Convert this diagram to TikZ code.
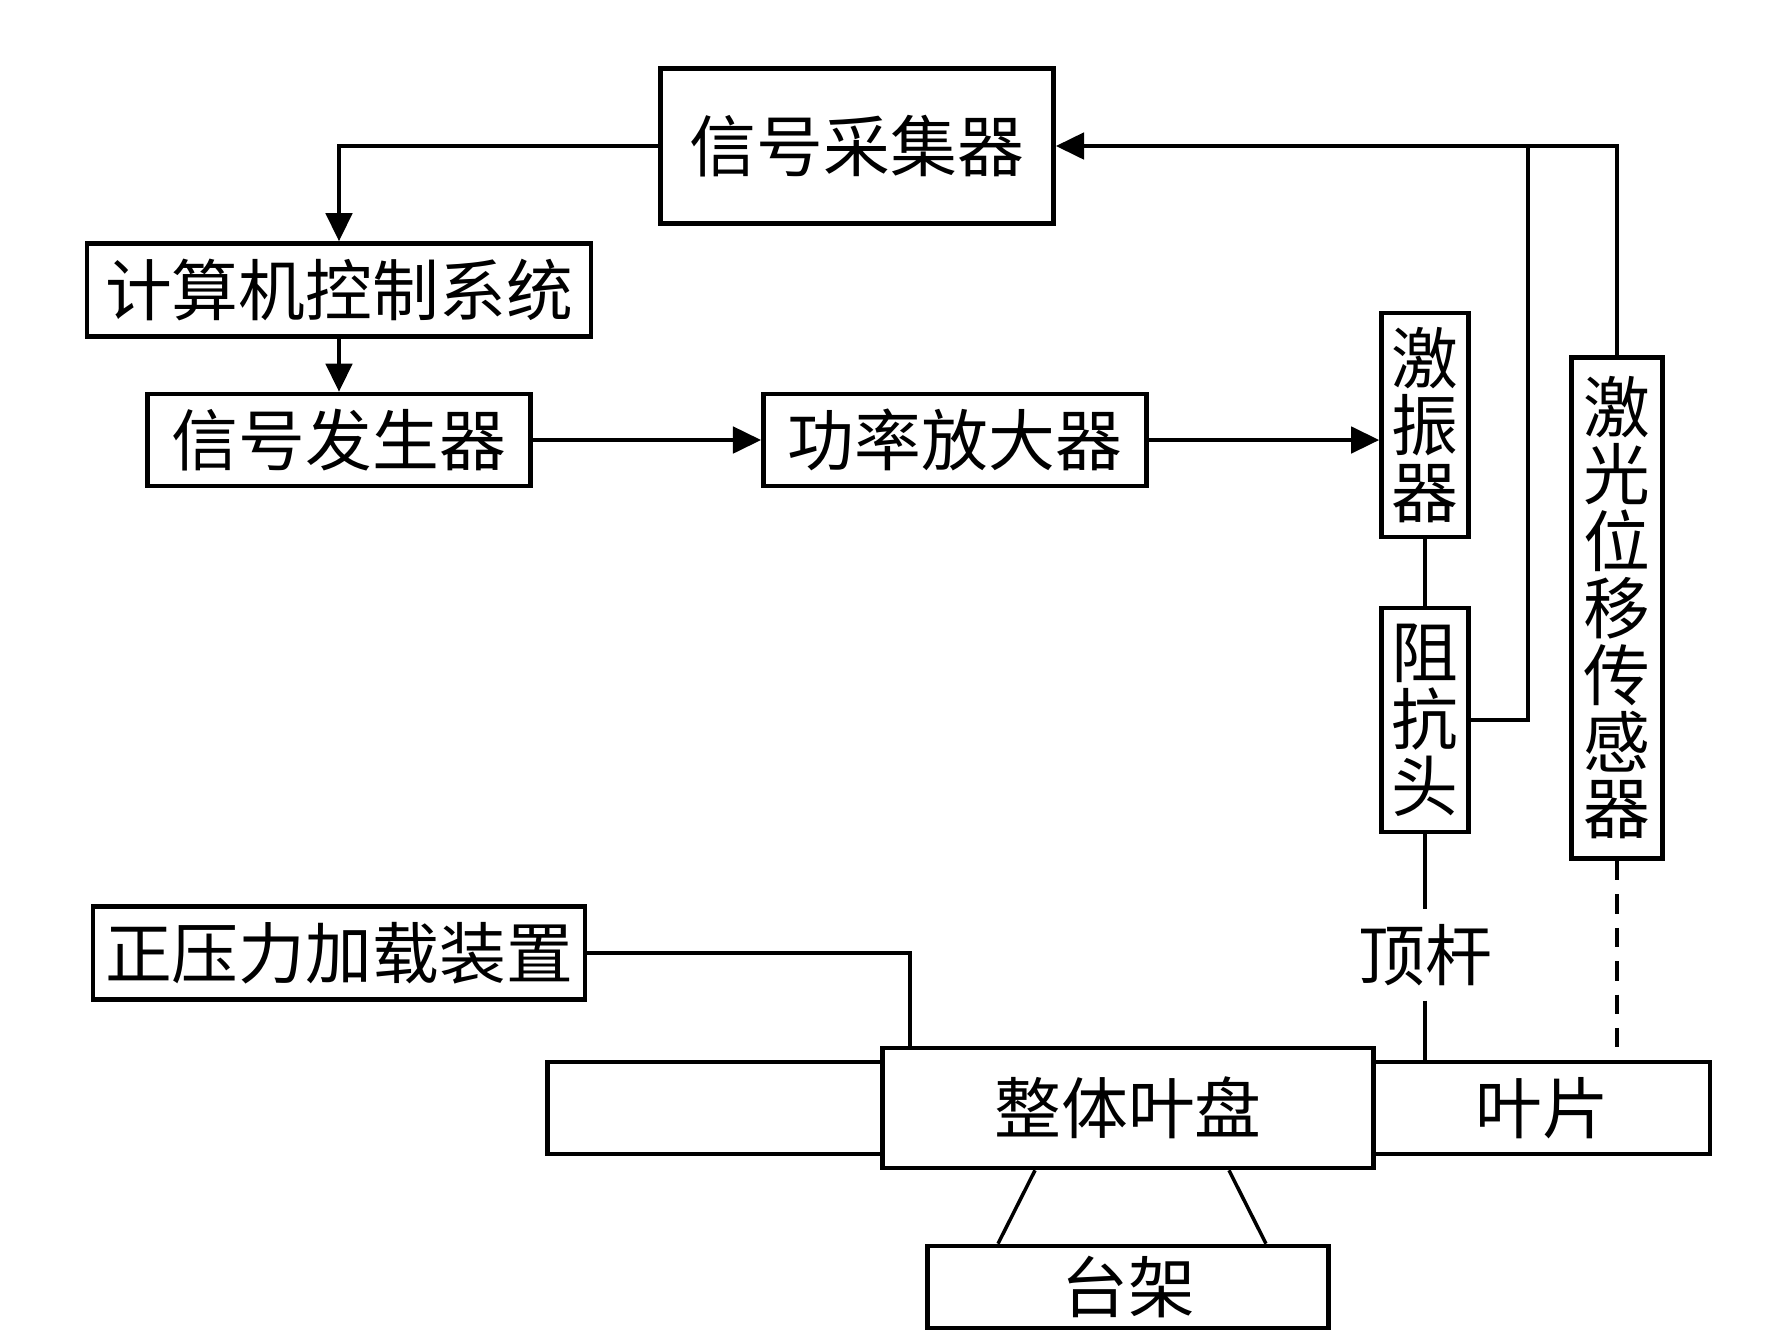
\documentclass[tikz,border=0pt]{standalone}
\usepackage{fontspec}
\newfontfamily\cjk{Noto Sans CJK SC}
\usetikzlibrary{arrows.meta,positioning,calc}

\begin{document}
\begin{tikzpicture}[x=0.01cm,y=-0.01cm,
	box/.style={draw,rectangle,line width=1.3pt,inner sep=0pt,align=center,font=\cjk\fontsize{19}{19}\selectfont},
	arr/.style={line width=1.1pt,-{Triangle[length=8pt,width=7.5pt]}},
	wire/.style={line width=1.1pt},
	lowwire/.style={line width=1pt}]
		\useasboundingbox (0,0) rectangle (1772,1332);

		\node[box, minimum width=3.93cm, minimum height=1.55cm] (acq) at (857,146) {信号采集器};
		\node[box, minimum width=5.04cm, minimum height=0.93cm] (comp) at (339,290) {计算机控制系统};
		\node[box, minimum width=3.83cm, minimum height=0.92cm] (gen) at (339,440) {信号发生器};
		\node[box, minimum width=3.83cm, minimum height=0.92cm] (amp) at (955,440) {功率放大器};
		\node[box, minimum width=0.87cm, minimum height=2.24cm] (exc) at (1425,425) {激\\振\\器};
		\node[box, minimum width=0.87cm, minimum height=2.24cm] (imp) at (1425,720) {阻\\抗\\头};
		\node[box, minimum width=0.91cm, minimum height=5.01cm] (laser) at (1617,608) {激\\光\\位\\移\\传\\感\\器};
		\node[box, minimum width=4.92cm, minimum height=0.93cm] (press) at (339,953) {正压力加载装置};
		\node[box, minimum width=3.35cm, minimum height=0.92cm] (hub) at (715,1108) {};
		\node[box, minimum width=4.91cm, minimum height=1.20cm] (disk) at (1128,1108) {整体叶盘};
		\node[box, minimum width=3.36cm, minimum height=0.92cm] (blade) at (1542,1108) {叶片};
		\node[box, minimum width=4.01cm, minimum height=0.82cm] (stand) at (1128,1287) {台架};
		\node[font=\cjk\fontsize{19}{19}\selectfont, inner sep=4pt] (rod) at (1425,955) {顶杆};
		\coordinate (junc) at (1528,146);

		% signal chain
		\draw[arr] (acq.west) -| (comp.north);
		\draw[arr] (comp.south) -- (gen.north);
		\draw[arr] (gen.east) -- (amp.west);
		\draw[arr] (amp.east) -- (amp.east -| exc.west);
		\draw[wire] (exc.south) -- (imp.north);
		\draw[arr] (laser.north) |- (acq.east);
		\draw[wire] (imp.east) -| (junc);

		% test rig
		\draw[lowwire] (imp.south) -- (rod.north);
		\draw[lowwire] (rod.south) -- (rod.south |- blade.north);
		\draw[lowwire, dash pattern=on 5.5pt off 4pt] (laser.south) -- (laser.south |- blade.north);
		\draw[lowwire] (press.east) -| ($(disk.north west)+(30,0)$);
		\draw[lowwire] ($(disk.south)+(-93,0)$) -- ($(stand.north)+(-130,0)$);
		\draw[lowwire] ($(disk.south)+(101,0)$) -- ($(stand.north)+(138,0)$);
\end{tikzpicture}
\end{document}
